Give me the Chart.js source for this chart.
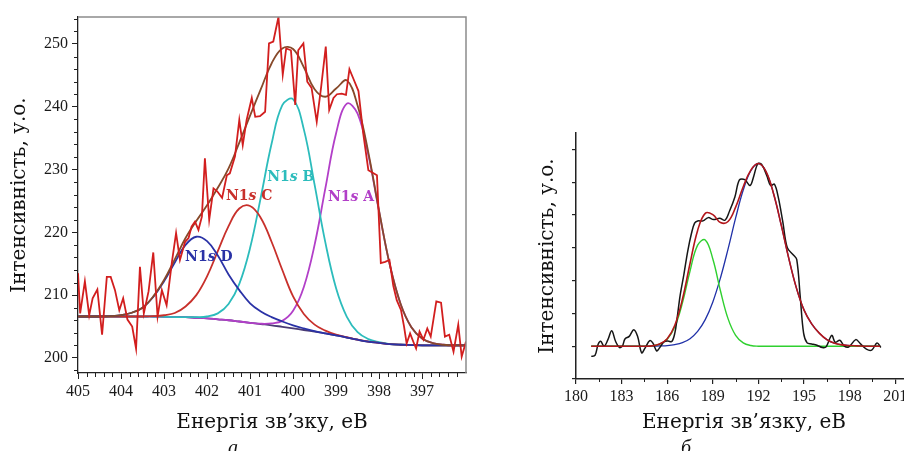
<!DOCTYPE html>
<html>
<head>
<meta charset="utf-8">
<script src="https://cdn.jsdelivr.net/npm/chart.js@4.4.0/dist/chart.umd.min.js"></script>
<style>
  html, body { margin: 0; padding: 0; background: #fff; overflow: hidden; width: 904px; height: 451px; }
  #panelA { position: absolute; left: 0; top: 0; }
  #panelB { position: absolute; left: 500px; top: 0; }
  .caption { position: absolute; top: 437px; font: italic 20px "Liberation Serif", serif; line-height: 20px; color: #111; }
</style>
</head>
<body>
<canvas id="panelA" width="480" height="451"></canvas>
<canvas id="panelB" width="412" height="451"></canvas>
<div class="caption" style="left:228px">а</div>
<div class="caption" style="left:681px">б</div>
<script>
// ---- panel а : N1s spectrum ----
const rawEnergy = [405.0,404.95,404.84,404.74,404.66,404.55,404.44,404.33,404.24,404.14,
  404.04,403.95,403.85,403.74,403.65,403.56,403.47,403.36,403.25,403.15,
  403.05,402.94,402.82,402.72,402.63,402.51,402.43,402.36,402.28,402.2,
  402.12,402.05,401.95,401.85,401.76,401.65,401.54,401.47,401.35,401.25,
  401.17,401.08,400.96,400.88,400.77,400.65,400.56,400.46,400.34,400.24,
  400.16,400.05,399.95,399.88,399.76,399.67,399.57,399.45,399.35,399.24,
  399.16,399.06,398.98,398.87,398.77,398.69,398.6,398.48,398.37,398.25,
  398.15,398.05,397.96,397.86,397.76,397.67,397.59,397.49,397.42,397.36,
  397.28,397.2,397.14,397.06,396.97,396.88,396.8,396.67,396.56,396.47,
  396.37,396.27,396.16,396.08,395.98];
const rawIntensity = [213.5,207.1,212.2,206.8,209.5,210.9,203.7,212.9,212.9,210.8,
  207.6,209.5,206.1,205.0,201.5,214.5,207.1,210.6,216.8,206.6,
  210.8,208.4,215.1,219.9,215.6,218.5,219.1,220.9,221.7,220.4,
  222.5,231.8,222.0,227.0,226.5,225.5,229.1,229.4,232.1,237.9,
  233.9,237.9,241.4,238.4,238.5,239.2,250.1,250.4,254.3,245.1,
  249.3,249.0,240.3,249.0,250.1,244.0,243.0,237.6,243.0,249.6,
  239.5,241.4,242.0,242.1,241.9,246.0,244.5,242.5,235.8,229.9,
  229.5,229.1,215.1,215.3,215.6,211.5,209.2,207.6,205.0,202.3,
  203.9,202.5,201.5,204.2,202.9,204.7,203.4,209.0,208.8,203.4,
  203.7,201.0,205.3,200.2,202.6];

const fitEnergy = [405,404.75,404.5,404.25,404,403.75,403.5,403.25,403,402.75,
  402.5,402.25,402,401.75,401.5,401.25,401,400.75,400.5,400.25,
  400,399.75,399.5,399.25,399,398.75,398.5,398.25,398,397.75,
  397.5,397.25,397,396.75,396.5,396.25,396];
const background = [206.6,206.6,206.6,206.6,206.6,206.6,206.6,206.6,206.55,206.5,
  206.5,206.4,206.3,206.15,206.0,205.8,205.6,205.4,205.2,204.95,
  204.7,204.45,204.2,203.9,203.6,203.25,202.9,202.6,202.4,202.2,
  202.1,202.05,202.0,202.0,202.0,202.0,202.0];
const peakD = [206.6,206.6,206.6,206.65,206.8,207.2,208.0,209.7,212.2,215.2,
  218.0,219.3,218.6,216.3,213.3,210.8,208.7,207.4,206.5,205.8,
  205.2,204.7,204.25,203.9,203.6,203.25,202.9,202.6,202.4,202.2,
  202.1,202.05,202.0,202.0,202.0,202.0,202.0];
const peakC = [206.6,206.6,206.6,206.6,206.6,206.6,206.6,206.65,206.8,207.15,
  208.2,210.0,213.0,217.0,221.0,223.8,224.2,222.3,218.5,214.0,
  209.8,207.0,205.3,204.35,203.7,203.3,202.9,202.6,202.4,202.2,
  202.1,202.05,202.0,202.0,202.0,202.0,202.0];
const peakB = [206.6,206.6,206.6,206.6,206.6,206.6,206.6,206.6,206.55,206.5,
  206.5,206.5,206.6,207.1,208.6,211.8,217.5,225.6,234.1,240.25,
  241.2,236.4,227.6,218.4,211.1,206.55,204.1,203.0,202.5,202.2,
  202.1,202.05,202.0,202.0,202.0,202.0,202.0];
const peakA = [206.6,206.6,206.6,206.6,206.6,206.6,206.6,206.6,206.55,206.5,
  206.5,206.4,206.3,206.15,206.0,205.8,205.6,205.45,205.5,205.9,
  207.5,211.3,218.0,227.0,235.8,240.5,238.9,232.3,223.3,214.8,
  208.6,204.9,203.1,202.35,202.1,202.0,202.0];
const envelope = [206.6,206.6,206.6,206.65,206.8,207.2,208.0,209.8,212.4,215.7,
  219.1,221.8,224.3,227.1,230.2,234.3,238.6,242.8,246.9,249.3,
  249.2,246.3,242.8,241.6,242.9,244.2,240.2,232.7,223.4,214.8,
  208.6,204.9,203.1,202.35,202.1,202.0,202.0];

const ticksEnergyA = [405, 404, 403, 402, 401, 400, 399, 398, 397];
const ticksIntensityA = [200, 210, 220, 230, 240, 250];
const peakNames = ['A', 'B', 'C', 'D'];
const peakLabelEnergy = [399.19, 400.6, 401.56, 402.51];
const peakLabelIntensity = [225.0, 228.2, 225.2, 215.4];

// ---- panel б ----
const rawEnergyB = [181.0,181.25,181.45,181.62,181.85,182.1,182.35,182.6,182.85,183.05,
  183.22,183.5,183.8,184.05,184.32,184.55,184.85,185.05,185.3,185.5,
  185.8,186.05,186.3,186.5,186.65,186.85,187.1,187.35,187.6,187.8,
  188.0,188.35,188.7,189.05,189.45,189.8,190.1,190.45,190.75,191.1,
  191.45,191.7,191.95,192.2,192.55,192.8,193.05,193.3,193.6,193.9,
  194.3,194.52,194.75,194.97,195.2,195.5,195.85,196.2,196.45,196.82,
  197.05,197.35,197.65,197.95,198.4,198.7,199.1,199.45,199.8,200.05];
const rawIntensityB = [0.69,0.72,1.05,1.15,1.0,1.2,1.47,1.15,0.96,1.0,
  1.22,1.3,1.5,1.3,0.8,0.95,1.17,1.1,0.86,0.95,
  1.14,1.16,1.14,1.4,1.85,2.55,3.2,3.9,4.45,4.75,
  4.82,4.82,4.92,4.86,4.9,4.84,5.12,5.55,6.07,6.08,
  5.9,6.2,6.56,6.55,6.2,5.9,5.94,5.55,4.8,4.0,
  3.78,3.64,2.5,1.4,1.1,1.07,1.03,0.96,0.98,1.33,
  1.12,1.18,1.0,0.98,1.2,1.08,0.91,0.88,1.1,0.96];
const fitEnergyB = [181,181.5,182,182.5,183,183.5,184,184.5,185,185.5,
  186,186.5,187,187.5,188,188.5,189,189.5,190,190.5,
  191,191.5,192,192.5,193,193.5,194,194.5,195,195.5,
  196,196.5,197,197.5,198,198.5,199,199.5,200];
const peakGreen = [1,1,1,1,1,1,1,1,1.01,1.06,
  1.21,1.59,2.32,3.29,4.08,4.24,3.66,2.69,1.84,1.33,
  1.10,1.02,1,1,1,1,1,1,1,1,
  1,1,1,1,1,1,1,1,1];
const peakBlue = [1,1,1,1,1,1,1,1,1,1.01,
  1.02,1.05,1.11,1.23,1.45,1.81,2.35,3.08,3.96,4.91,
  5.76,6.35,6.57,6.32,5.64,4.69,3.67,2.77,2.1,1.68,
  1.40,1.2,1.09,1.04,1.02,1.01,1,1,1];
const envelopeB = [1,1,1,1,1,1,1,1,1.01,1.07,
  1.23,1.64,2.43,3.52,4.53,5.05,5.01,4.77,4.80,5.24,
  5.86,6.37,6.57,6.32,5.64,4.69,3.67,2.77,2.1,1.68,
  1.40,1.2,1.09,1.04,1.02,1.01,1,1,1];
const ticksEnergyB = [180, 183, 186, 189, 192, 195, 198, 201];
const ticksIntensityB = [0, 1, 2, 3, 4, 5, 6, 7];

// minor tick positions
const minorEnergyA = [];
for (let i = 1; i < 45; i++) if (i % 5) minorEnergyA.push(405 - i * 0.2);
const minorIntensityA = [];
for (let v = 198; v <= 254; v += 2) if (v % 10) minorIntensityA.push(v);
const minorEnergyB = ticksEnergyB.map(v => v + 1.5);

const serif = '"Liberation Serif", "Times New Roman", serif';
const titleFont = '"DejaVu Serif", serif';

function pts(xs, ys) {
  return xs.map((x, i) => ({ x: x, y: ys[i] }));
}
function line(xs, ys, color, width, tension) {
  return { data: pts(xs, ys), borderColor: color, borderWidth: width, pointRadius: 0, tension: tension, fill: false };
}

const minorTicks = {
  id: 'minorTicks',
  afterDraw(chart, args, opts) {
    const { ctx, scales: { x, y } } = chart;
    ctx.save();
    ctx.strokeStyle = opts.color;
    ctx.lineWidth = 1;
    ctx.beginPath();
    opts.xs.forEach(v => {
      const p = Math.round(x.getPixelForValue(v)) + 0.5;
      ctx.moveTo(p, x.top);
      ctx.lineTo(p, x.top + opts.len);
    });
    opts.ys.forEach(v => {
      const p = Math.round(y.getPixelForValue(v)) + 0.5;
      ctx.moveTo(y.right, p);
      ctx.lineTo(y.right - opts.len, p);
    });
    ctx.stroke();
    ctx.restore();
  }
};

const frame = {
  id: 'frame',
  afterDraw(chart) {
    const { ctx, chartArea: a } = chart;
    ctx.save();
    ctx.strokeStyle = '#8c8c8c';
    ctx.lineWidth = 1.5;
    ctx.beginPath();
    ctx.moveTo(a.left, a.top);
    ctx.lineTo(a.right, a.top);
    ctx.lineTo(a.right, a.bottom);
    ctx.stroke();
    ctx.restore();
  }
};

const peakLabels = {
  id: 'peakLabels',
  afterDatasetsDraw(chart, args, opts) {
    const { ctx, scales: { x, y } } = chart;
    ctx.save();
    ctx.textBaseline = 'alphabetic';
    peakNames.forEach((name, i) => {
      let px = x.getPixelForValue(peakLabelEnergy[i]);
      const py = y.getPixelForValue(peakLabelIntensity[i]);
      ctx.fillStyle = opts.colors[i];
      [['N1', 'bold'], ['s', 'italic bold'], [' ' + name, 'bold']].forEach(part => {
        ctx.font = part[1] + ' 14px ' + titleFont;
        ctx.fillText(part[0], px, py);
        px += ctx.measureText(part[0]).width;
      });
    });
    ctx.restore();
  }
};

const colA = '#b23fc8', colB = '#2cbcbc', colC = '#c8302b', colD = '#2a32a6';

new Chart(document.getElementById('panelA'), {
  type: 'line',
  data: {
    datasets: [
      line(rawEnergy, rawIntensity, '#d21e1e', 1.8, 0),
      line(fitEnergy, envelope, '#87492a', 1.8, 0.4),
      line(fitEnergy, peakD, colD, 1.8, 0.4),
      line(fitEnergy, peakC, colC, 1.8, 0.4),
      line(fitEnergy, peakB, colB, 1.8, 0.4),
      line(fitEnergy, peakA, colA, 1.8, 0.4),
      line(fitEnergy, background, '#4a3b74', 1.8, 0.4)
    ]
  },
  options: {
    responsive: false,
    animation: false,
    layout: { padding: { top: 17, right: 14, left: 0, bottom: 0 } },
    plugins: {
      legend: { display: false },
      tooltip: { enabled: false },
      minorTicks: { xs: minorEnergyA, ys: minorIntensityA, len: 4, color: '#222' },
      peakLabels: { colors: [colA, colB, colC, colD] }
    },
    scales: {
      x: {
        type: 'linear', reverse: true, min: 395.98, max: 405,
        afterBuildTicks: s => { s.ticks = ticksEnergyA.map(v => ({ value: v })); },
        afterFit: s => { s.height = 78; },
        grid: { drawOnChartArea: false, tickLength: 6, color: '#222', lineWidth: 1 },
        border: { color: '#222', width: 1.3 },
        ticks: { font: { family: serif, size: 16 }, color: '#1a1a1a', padding: 3, maxRotation: 0, autoSkip: false },
        title: { display: true, text: 'Енергія зв’зку, еВ', color: '#111',
          font: { family: titleFont, size: 20 }, padding: { top: 0, bottom: 16 } }
      },
      y: {
        type: 'linear', min: 197.6, max: 254.3,
        afterBuildTicks: s => { s.ticks = ticksIntensityA.map(v => ({ value: v })); },
        afterFit: s => { s.width = 78; },
        grid: { drawOnChartArea: false, tickLength: 6, color: '#222', lineWidth: 1 },
        border: { color: '#222', width: 1.3 },
        ticks: { font: { family: serif, size: 16 }, color: '#1a1a1a', padding: 4 },
        title: { display: true, text: 'Інтенсивність, у.о.', color: '#111',
          font: { family: titleFont, size: 20 }, padding: { top: 8, bottom: 0 } }
      }
    }
  },
  plugins: [frame, minorTicks, peakLabels]
});

new Chart(document.getElementById('panelB'), {
  type: 'line',
  data: {
    datasets: [
      line(fitEnergyB, envelopeB, '#b3161b', 1.6, 0.4),
      line(rawEnergyB, rawIntensityB, '#161616', 1.5, 0.35),
      line(fitEnergyB, peakGreen, '#2fd02f', 1.4, 0.4),
      line(fitEnergyB, peakBlue, '#2031a8', 1.3, 0.4)
    ]
  },
  options: {
    responsive: false,
    animation: false,
    layout: { padding: { top: 133, right: 0, left: 0, bottom: 0 } },
    plugins: {
      legend: { display: false },
      tooltip: { enabled: false },
      minorTicks: { xs: minorEnergyB, ys: [], len: 3, color: '#222' }
    },
    scales: {
      x: {
        type: 'linear', min: 180, max: 202.1,
        afterBuildTicks: s => { s.ticks = ticksEnergyB.map(v => ({ value: v })); },
        afterFit: s => { s.height = 72; },
        grid: { drawOnChartArea: false, tickLength: 5, color: '#222', lineWidth: 1.2 },
        border: { color: '#222', width: 1.5 },
        ticks: { font: { family: serif, size: 16 }, color: '#1a1a1a', padding: 3, maxRotation: 0, autoSkip: false },
        title: { display: true, text: 'Енергія зв’язку, еВ', color: '#111',
          font: { family: titleFont, size: 20 }, padding: { top: 0, bottom: 16 } }
      },
      y: {
        type: 'linear', min: 0, max: 7.5,
        afterBuildTicks: s => { s.ticks = ticksIntensityB.map(v => ({ value: v })); },
        afterFit: s => { s.width = 76; },
        grid: { drawOnChartArea: false, tickLength: 4, color: '#222', lineWidth: 1.2 },
        border: { color: '#222', width: 1.5 },
        ticks: { display: false },
        title: { display: true, text: 'Інтенсивність, у.о.', color: '#111',
          font: { family: titleFont, size: 20 }, padding: { top: 36, bottom: 0 } }
      }
    }
  },
  plugins: [minorTicks]
});
</script>
</body>
</html>
